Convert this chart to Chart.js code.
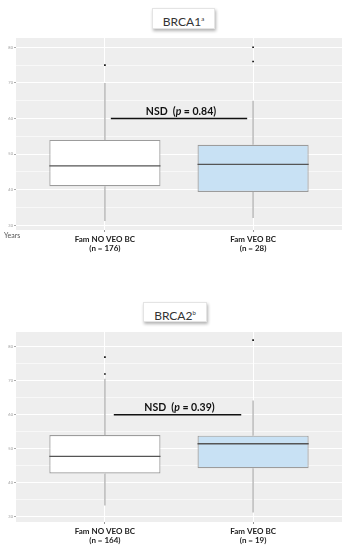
<!DOCTYPE html>
<html>
<head>
<meta charset="utf-8">
<script src="https://cdn.jsdelivr.net/npm/chart.js@4"></script>
<style>
  body { margin: 0; background: #fff; width: 351px; height: 550px; position: relative; overflow: hidden; }
  canvas { position: absolute; left: 0; }
  .title {
    position: absolute; background: #fff; font-family: Lato, "Open Sans", sans-serif;
    font-size: 12px; color: #333; text-align: center; box-sizing: border-box;
    box-shadow: 1px 2px 3px rgba(0,0,0,0.3); border: 1px solid #e4e4e4;
  }
  .title sup { font-size: 6px; }
  .years { position: absolute; left: 4px; top: 231px; font: 7px Lato, sans-serif; color: #555; }
</style>
</head>
<body>
<div class="title" style="left:152px; top:8px; width:63px; height:21px; line-height:20px;">BRCA1<sup>a</sup></div>
<canvas id="brca1" width="351" height="275" style="top:0"></canvas>
<div class="years">Years</div>
<div class="title" style="left:143px; top:302px; width:64px; height:20px; line-height:19px;">BRCA2<sup>b</sup></div>
<canvas id="brca2" width="351" height="275" style="top:275px"></canvas>
<script>
const groups = ['Fam NO VEO BC', 'Fam VEO BC'];
const positions = [1, 2];
const yTicks = [30, 35, 40, 45, 50, 55, 60, 65, 70, 75, 80];
const boxColors = ['#ffffff', '#c8e1f4'];

// BRCA1
const brca1N = [176, 28];
const brca1Low = [31.2, 32.1];
const brca1Q1 = [41, 39.4];
const brca1Median = [46.7, 47.1];
const brca1Q3 = [54, 52.6];
const brca1High = [70, 65];
const brca1Mean = [47.2, 48.3];
const brca1OutGroup = [1, 2, 2];
const brca1OutVal = [75, 80, 76];
const brca1P = '0.84';
const brca1Bracket = [1.04, 1.96];

// BRCA2
const brca2N = [164, 19];
const brca2Low = [33.2, 31.1];
const brca2Q1 = [42.6, 44.2];
const brca2Median = [47.7, 51.4];
const brca2Q3 = [54, 53.8];
const brca2High = [70.6, 64.2];
const brca2Mean = [48.8, 50.8];
const brca2OutGroup = [1, 1, 2];
const brca2OutVal = [77, 72, 82];
const brca2P = '0.39';
const brca2Bracket = [1.06, 1.92];

const bracketY = 60;

const boxPlugin = {
    id: 'boxParts',
    beforeDraw(chart) {
        const { ctx, chartArea: a } = chart;
        ctx.save();
        ctx.fillStyle = '#eeeeee';
        ctx.fillRect(a.left, a.top, a.right - a.left, a.bottom - a.top);
        ctx.restore();
    },
    beforeDatasetsDraw(chart) {
        const s = chart.options.plugins.boxParts;
        const { ctx, scales: { x, y } } = chart;
        ctx.save();
        ctx.strokeStyle = '#ababab';
        ctx.lineWidth = 1.2;
        positions.forEach((p, i) => {
            const px = x.getPixelForValue(p);
            ctx.beginPath();
            ctx.moveTo(px, y.getPixelForValue(s.low[i]));
            ctx.lineTo(px, y.getPixelForValue(s.q1[i]));
            ctx.moveTo(px, y.getPixelForValue(s.q3[i]));
            ctx.lineTo(px, y.getPixelForValue(s.high[i]));
            ctx.stroke();
        });
        ctx.restore();
    },
    afterDatasetDraw(chart, args) {
        if (args.index !== 0) return;
        const s = chart.options.plugins.boxParts;
        const { ctx, scales: { y } } = chart;
        ctx.save();
        ctx.strokeStyle = '#555';
        ctx.lineWidth = 1.3;
        args.meta.data.forEach((bar, i) => {
            const py = y.getPixelForValue(s.median[i]);
            ctx.beginPath();
            ctx.moveTo(bar.x - bar.width / 2, py);
            ctx.lineTo(bar.x + bar.width / 2, py);
            ctx.stroke();
        });
        ctx.restore();
    },
    afterDraw(chart) {
        const s = chart.options.plugins.boxParts;
        const { ctx, scales: { x, y } } = chart;
        const x0 = x.getPixelForValue(s.bracket[0]);
        const x1 = x.getPixelForValue(s.bracket[1]);
        const py = y.getPixelForValue(bracketY);
        ctx.save();
        ctx.strokeStyle = '#111';
        ctx.lineWidth = 1.5;
        ctx.beginPath();
        ctx.moveTo(x0, py);
        ctx.lineTo(x1, py);
        ctx.stroke();
        // NSD (p = ...) with italic p
        const parts = [
            ['bold 10.5px Lato, sans-serif', 'NSD  ('],
            ['italic bold 10.5px Lato, sans-serif', 'p'],
            ['bold 10.5px Lato, sans-serif', ' = ' + s.p + ')']
        ];
        let total = 0;
        parts.forEach(pt => { ctx.font = pt[0]; total += ctx.measureText(pt[1]).width; });
        let tx = (x0 + x1) / 2 - total / 2 + 2;
        ctx.fillStyle = '#111';
        ctx.textBaseline = 'alphabetic';
        parts.forEach(pt => {
            ctx.font = pt[0];
            ctx.fillText(pt[1], tx, py - 4);
            tx += ctx.measureText(pt[1]).width;
        });
        ctx.restore();
    }
};

function makeBoxChart(id, d) {
    const boxData = positions.map((p, i) => ({ x: p, y: [d.q1[i], d.q3[i]] }));
    const meanData = positions.map((p, i) => ({ x: p, y: d.mean[i] }));
    const outData = d.outGroup.map((g, i) => ({ x: g, y: d.outVal[i] }));
    return new Chart(document.getElementById(id), {
        type: 'bar',
        data: {
            datasets: [{
                data: boxData,
                backgroundColor: boxColors,
                borderColor: '#9c9c9c',
                borderWidth: 1.2,
                borderSkipped: false,
                barPercentage: 0.75,
                categoryPercentage: 1
            }, {
                type: 'line',
                data: meanData,
                showLine: false,
                pointStyle: 'rect',
                pointRadius: 1.3,
                pointBackgroundColor: '#111',
                pointBorderWidth: 0
            }, {
                type: 'line',
                data: outData,
                showLine: false,
                pointStyle: 'rect',
                pointRadius: 1.2,
                pointBackgroundColor: '#111',
                pointBorderWidth: 0
            }]
        },
        options: {
            responsive: false,
            animation: false,
            layout: { padding: { top: d.top, right: 9, left: 0, bottom: 0 } },
            plugins: {
                legend: { display: false },
                tooltip: { enabled: false },
                boxParts: d
            },
            scales: {
                x: {
                    type: 'linear',
                    min: 0.4,
                    max: 2.6,
                    offset: false,
                    afterBuildTicks: scale => { scale.ticks = positions.map(v => ({ value: v })); },
                    afterFit: scale => { scale.height = d.xHeight; },
                    border: { display: false },
                    grid: { offset: false, color: '#ffffff', lineWidth: 1, tickLength: 2, tickColor: '#999' },
                    ticks: {
                        padding: 3,
                        color: '#222',
                        font: { family: 'Lato, sans-serif', size: 8, weight: 'bold', lineHeight: 1.1 },
                        maxRotation: 0,
                        callback: v => [groups[v - 1], '(n = ' + d.n[v - 1] + ')']
                    }
                },
                y: {
                    min: d.yMin,
                    max: d.yMax,
                    afterBuildTicks: scale => { scale.ticks = yTicks.map(v => ({ value: v })); },
                    afterFit: scale => { scale.width = 16; },
                    border: { display: false },
                    grid: {
                        color: '#ffffff',
                        lineWidth: c => (c.tick && c.tick.value % 10 === 0 ? 1.1 : 0.6),
                        tickLength: 2,
                        tickColor: c => (c.tick && c.tick.value % 10 === 0 ? '#aaa' : 'rgba(0,0,0,0)')
                    },
                    ticks: {
                        padding: 1,
                        color: '#9a9a9a',
                        font: { family: 'Lato, sans-serif', size: 4 },
                        callback: v => (v % 10 === 0 ? v : '')
                    }
                }
            }
        },
        plugins: [boxPlugin]
    });
}

makeBoxChart('brca1', {
    n: brca1N, low: brca1Low, q1: brca1Q1, median: brca1Median, q3: brca1Q3, high: brca1High,
    mean: brca1Mean, outGroup: brca1OutGroup, outVal: brca1OutVal, p: brca1P, bracket: brca1Bracket,
    yMin: 28.7, yMax: 82.6, top: 38, xHeight: 45
});
makeBoxChart('brca2', {
    n: brca2N, low: brca2Low, q1: brca2Q1, median: brca2Median, q3: brca2Q3, high: brca2High,
    mean: brca2Mean, outGroup: brca2OutGroup, outVal: brca2OutVal, p: brca2P, bracket: brca2Bracket,
    yMin: 28.3, yMax: 84.4, top: 57, xHeight: 28
});
</script>
</body>
</html>
